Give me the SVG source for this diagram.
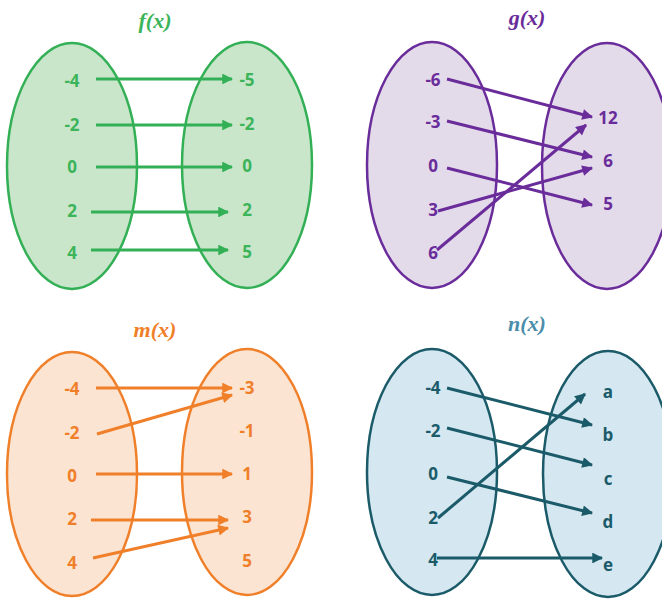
<svg xmlns="http://www.w3.org/2000/svg" width="662" height="599" viewBox="0 0 662 599">
<defs>
<style>
.lbl{font-family:"Open Sans","Liberation Sans",sans-serif;font-weight:bold;font-size:17px;text-anchor:middle;dominant-baseline:central}
.ttl{font-family:"Liberation Serif","DejaVu Serif",serif;font-weight:bold;font-style:italic;font-size:22px;text-anchor:middle;dominant-baseline:central}
.e{stroke-width:2.5}
.a{stroke-width:3;fill:none}
.g .e{fill:#c9e6ca;stroke:#33b056}.g text{fill:#3cb45a}.g .a{stroke:#33b056}
.p .e{fill:#e3dbea;stroke:#6a2c9a}.p text{fill:#6a2c9a}.p .a{stroke:#6a2c9a}
.o .e{fill:#fce4d2;stroke:#f07f2a}.o text{fill:#f07f2a}.o .a{stroke:#f07f2a}
.t .e{fill:#d5e8f1;stroke:#1b5b69}.t text{fill:#1b5b69}.t .a{stroke:#1b5b69}
.t .ttl{fill:#4b8eab}
</style>
<marker id="mg" viewBox="0 0 10 10" refX="9" refY="5" markerWidth="4.5" markerHeight="3.6" orient="auto" markerUnits="strokeWidth"><path d="M0,0L10,5L0,10z" fill="#33b056"/></marker>
<marker id="mp" viewBox="0 0 10 10" refX="9" refY="5" markerWidth="4.5" markerHeight="3.6" orient="auto" markerUnits="strokeWidth"><path d="M0,0L10,5L0,10z" fill="#6a2c9a"/></marker>
<marker id="mo" viewBox="0 0 10 10" refX="9" refY="5" markerWidth="4.5" markerHeight="3.6" orient="auto" markerUnits="strokeWidth"><path d="M0,0L10,5L0,10z" fill="#f07f2a"/></marker>
<marker id="mt" viewBox="0 0 10 10" refX="9" refY="5" markerWidth="4.5" markerHeight="3.6" orient="auto" markerUnits="strokeWidth"><path d="M0,0L10,5L0,10z" fill="#1b5b69"/></marker>
</defs>
<rect width="662" height="599" fill="#fff"/>

<g id="f" class="g">
<text class="ttl" x="155" y="20">f(x)</text>
<g id="f-domain"><ellipse class="e" cx="72" cy="166" rx="65" ry="123"/>
<text class="lbl" x="72" y="80">-4</text><text class="lbl" x="72" y="124">-2</text><text class="lbl" x="72" y="166">0</text><text class="lbl" x="72" y="210">2</text><text class="lbl" x="72" y="252">4</text></g>
<g id="f-range"><ellipse class="e" cx="247" cy="165" rx="65" ry="123"/>
<text class="lbl" x="247" y="79">-5</text><text class="lbl" x="247" y="123">-2</text><text class="lbl" x="247" y="165">0</text><text class="lbl" x="247" y="209">2</text><text class="lbl" x="247" y="251">5</text></g>
<g id="f-connectors" marker-end="url(#mg)">
<path class="a" d="M96,79H232"/><path class="a" d="M96,125H232"/><path class="a" d="M96,167H232"/><path class="a" d="M91,212H228"/><path class="a" d="M91,250H228"/>
</g>
</g>

<g id="g" class="p">
<text class="ttl" x="527" y="17">g(x)</text>
<g id="g-domain"><ellipse class="e" cx="432" cy="165" rx="65" ry="123"/>
<text class="lbl" x="433" y="79">-6</text><text class="lbl" x="433" y="121">-3</text><text class="lbl" x="433" y="165">0</text><text class="lbl" x="433" y="209">3</text><text class="lbl" x="433" y="252">6</text></g>
<g id="g-range"><ellipse class="e" cx="607" cy="166" rx="65" ry="123"/>
<text class="lbl" x="608" y="117">12</text><text class="lbl" x="608" y="160">6</text><text class="lbl" x="608" y="203">5</text></g>
<g id="g-connectors" marker-end="url(#mp)">
<path class="a" d="M447,79L592,117"/><path class="a" d="M447,121L592,157"/><path class="a" d="M447,168L592,205"/><path class="a" d="M438,211L592,168"/><path class="a" d="M437,250L586,125"/>
</g>
</g>

<g id="m" class="o">
<text class="ttl" x="155" y="329">m(x)</text>
<g id="m-domain"><ellipse class="e" cx="72" cy="474" rx="65" ry="122"/>
<text class="lbl" x="72" y="388">-4</text><text class="lbl" x="72" y="432">-2</text><text class="lbl" x="72" y="475">0</text><text class="lbl" x="72" y="518">2</text><text class="lbl" x="72" y="562">4</text></g>
<g id="m-range"><ellipse class="e" cx="247" cy="472" rx="65" ry="123"/>
<text class="lbl" x="247" y="387">-3</text><text class="lbl" x="247" y="430">-1</text><text class="lbl" x="247" y="473">1</text><text class="lbl" x="247" y="516">3</text><text class="lbl" x="247" y="560">5</text></g>
<g id="m-connectors" marker-end="url(#mo)">
<path class="a" d="M96,388H232"/><path class="a" d="M97,434L232,395"/><path class="a" d="M96,474H232"/><path class="a" d="M91,520H228"/><path class="a" d="M93,558L228,528"/>
</g>
</g>

<g id="n" class="t">
<text class="ttl" x="527" y="323">n(x)</text>
<g id="n-domain"><ellipse class="e" cx="432" cy="472" rx="65" ry="123"/>
<text class="lbl" x="433" y="387">-4</text><text class="lbl" x="433" y="430">-2</text><text class="lbl" x="433" y="473">0</text><text class="lbl" x="433" y="517">2</text><text class="lbl" x="433" y="559">4</text></g>
<g id="n-range"><ellipse class="e" cx="608" cy="474" rx="65" ry="123"/>
<text class="lbl" x="608" y="391">a</text><text class="lbl" x="608" y="434">b</text><text class="lbl" x="608" y="478">c</text><text class="lbl" x="608" y="521">d</text><text class="lbl" x="608" y="564">e</text></g>
<g id="n-connectors" marker-end="url(#mt)">
<path class="a" d="M447,388L592,425"/><path class="a" d="M447,428L592,465"/><path class="a" d="M447,477L592,513"/><path class="a" d="M438,518L585,394"/><path class="a" d="M437,558H602"/>
</g>
</g>
</svg>
